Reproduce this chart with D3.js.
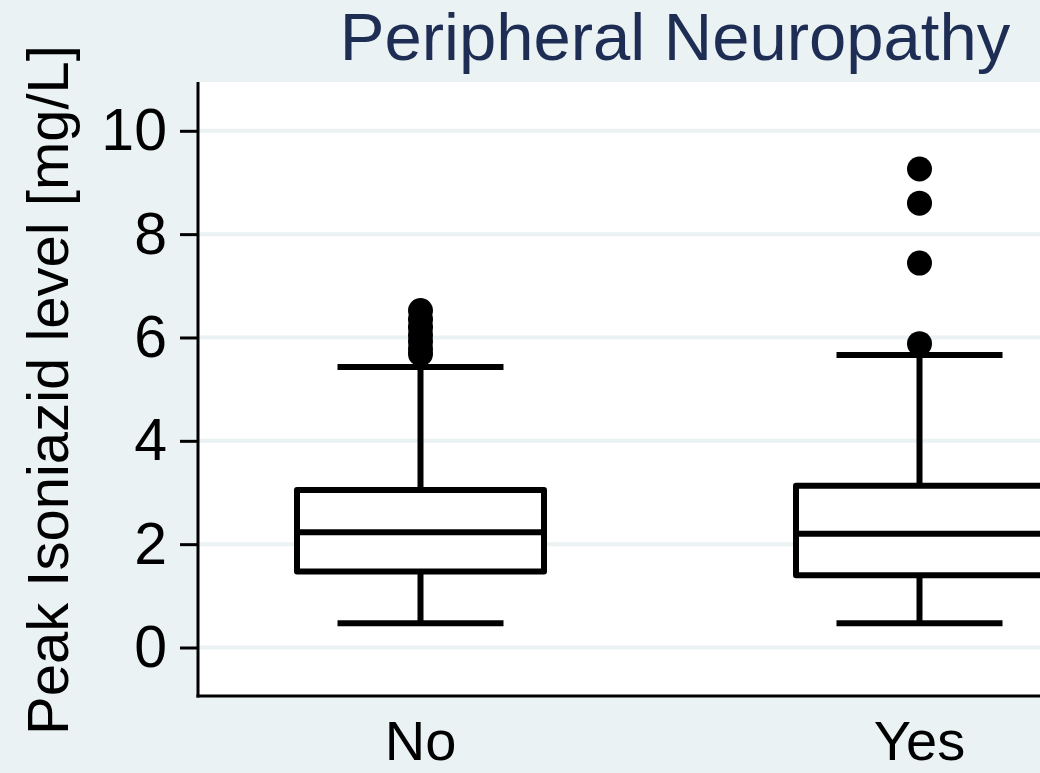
<!DOCTYPE html>
<html>
<head>
<meta charset="utf-8">
<script src="https://cdn.jsdelivr.net/npm/d3@7"></script>
<style>
  html, body { margin: 0; padding: 0; background: #eaf2f3; }
  svg { display: block; }
</style>
</head>
<body>
<svg id="chart" width="1040" height="773"></svg>
<script>
// values
const categories = ['No', 'Yes'];
const whiskLo = [0.47, 0.47];
const q1 = [1.47, 1.40];
const median = [2.23, 2.20];
const q3 = [3.05, 3.13];
const whiskHi = [5.43, 5.66];
const outliersNo = [5.68, 5.78, 5.92, 6.05, 6.2, 6.35, 6.52];
const outliersYes = [5.88, 7.44, 8.60, 9.26];
const yTicks = [0, 2, 4, 6, 8, 10];

const bg = '#eaf2f3';
const font = '"Liberation Sans", Arial, sans-serif';

const svg = d3.select('#chart');
svg.append('rect').attr('width', 1040).attr('height', 773).attr('fill', bg);

// plot region (runs past the right edge, like the reference)
const plotL = 198, plotT = 82, plotR = 1142, plotB = 696;

const y = d3.scaleLinear().domain([0, 10]).range([647.5, 130.8]);
const x = d3.scalePoint().domain(categories).range([420.5, 919.5]);

const boxW = 247, capW = 166;

svg.append('rect')
  .attr('x', plotL).attr('y', plotT)
  .attr('width', plotR - plotL).attr('height', plotB - plotT)
  .attr('fill', '#fff');

// gridlines
svg.append('g').selectAll('line')
  .data(yTicks)
  .enter().append('line')
  .attr('x1', plotL).attr('x2', plotR)
  .attr('y1', d => y(d)).attr('y2', d => y(d))
  .attr('stroke', bg).attr('stroke-width', 4);

// y axis
const yAxis = svg.append('g')
  .attr('transform', 'translate(' + plotL + ',0)')
  .call(d3.axisLeft(y).tickValues(yTicks).tickSize(18).tickPadding(13).tickFormat(d3.format('d')));
yAxis.select('.domain').remove();
yAxis.selectAll('.tick line').attr('stroke', '#000').attr('stroke-width', 3);
yAxis.selectAll('.tick text')
  .attr('font-family', font).attr('font-size', 59).attr('fill', '#000');

// axis lines
svg.append('line')
  .attr('x1', plotL).attr('x2', plotL).attr('y1', plotT).attr('y2', plotB + 1.5)
  .attr('stroke', '#000').attr('stroke-width', 3);
svg.append('line')
  .attr('x1', plotL - 1.5).attr('x2', plotR).attr('y1', plotB).attr('y2', plotB)
  .attr('stroke', '#000').attr('stroke-width', 3);

// boxes
const boxes = categories.map((c, i) => ({
  cat: c, lo: whiskLo[i], q1: q1[i], med: median[i], q3: q3[i], hi: whiskHi[i]
}));

const g = svg.append('g')
  .attr('stroke', '#000').attr('stroke-width', 6).attr('fill', 'none');

const b = g.selectAll('.box').data(boxes).enter().append('g').attr('class', 'box');

// whiskers
b.append('line')
  .attr('x1', d => x(d.cat)).attr('x2', d => x(d.cat))
  .attr('y1', d => y(d.q3)).attr('y2', d => y(d.hi));
b.append('line')
  .attr('x1', d => x(d.cat)).attr('x2', d => x(d.cat))
  .attr('y1', d => y(d.q1)).attr('y2', d => y(d.lo));
b.append('line')
  .attr('x1', d => x(d.cat) - capW / 2).attr('x2', d => x(d.cat) + capW / 2)
  .attr('y1', d => y(d.hi)).attr('y2', d => y(d.hi));
b.append('line')
  .attr('x1', d => x(d.cat) - capW / 2).attr('x2', d => x(d.cat) + capW / 2)
  .attr('y1', d => y(d.lo)).attr('y2', d => y(d.lo));

// box and median
b.append('rect')
  .attr('x', d => x(d.cat) - boxW / 2)
  .attr('y', d => y(d.q3))
  .attr('width', boxW)
  .attr('height', d => y(d.q1) - y(d.q3))
  .attr('fill', '#fff')
  .attr('stroke-linejoin', 'round');
b.append('line')
  .attr('x1', d => x(d.cat) - boxW / 2).attr('x2', d => x(d.cat) + boxW / 2)
  .attr('y1', d => y(d.med)).attr('y2', d => y(d.med));

// outliers
const pts = outliersNo.map(v => ({ cat: 'No', v: v }))
  .concat(outliersYes.map(v => ({ cat: 'Yes', v: v })));
svg.append('g').selectAll('circle')
  .data(pts)
  .enter().append('circle')
  .attr('cx', d => x(d.cat))
  .attr('cy', d => y(d.v))
  .attr('r', 12.5)
  .attr('fill', '#000');

// x labels
svg.append('g').selectAll('text')
  .data(categories)
  .enter().append('text')
  .attr('x', d => x(d))
  .attr('y', 760)
  .attr('text-anchor', 'middle')
  .attr('font-family', font).attr('font-size', 56).attr('fill', '#000')
  .text(d => d);

// y title
svg.append('text')
  .attr('transform', 'translate(68,390) rotate(-90)')
  .attr('text-anchor', 'middle')
  .attr('font-family', font).attr('font-size', 58).attr('fill', '#000')
  .text('Peak Isoniazid level [mg/L]');

// title
svg.append('text')
  .attr('x', 675).attr('y', 60)
  .attr('text-anchor', 'middle')
  .attr('font-family', font).attr('font-size', 67).attr('fill', '#1e2d53')
  .text('Peripheral Neuropathy');
</script>
</body>
</html>
